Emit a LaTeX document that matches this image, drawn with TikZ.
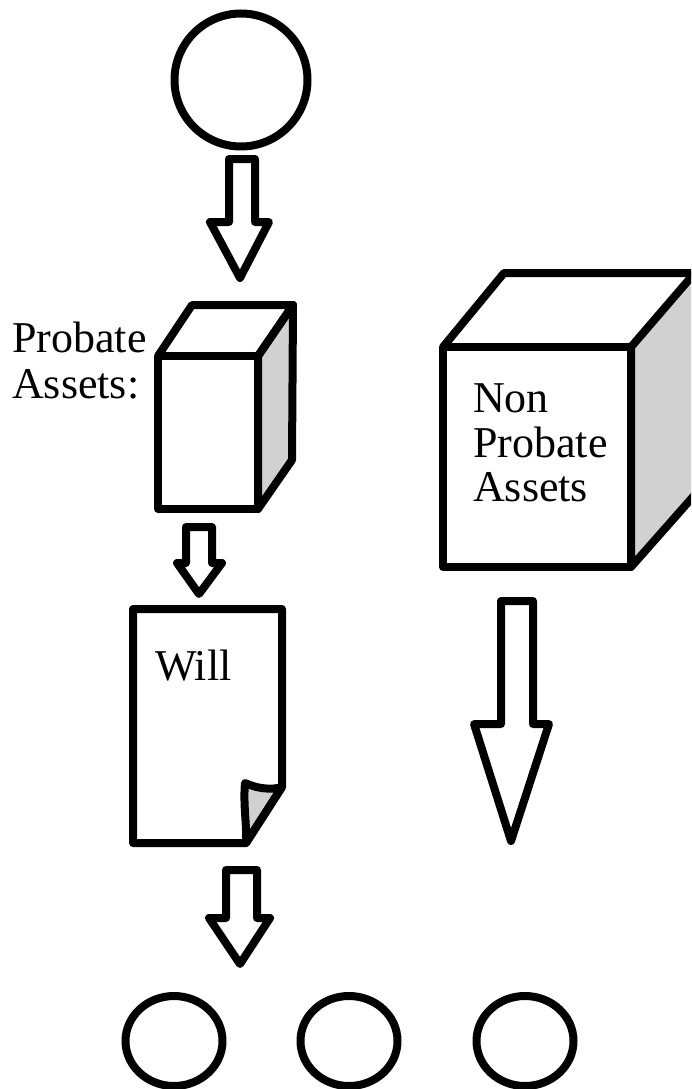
\documentclass[tikz,border=0pt]{standalone}
\usepackage{fontspec}
\setmainfont{Liberation Serif}
\usetikzlibrary{shapes.geometric}

\begin{document}
\begin{tikzpicture}[x=1pt,y=-1pt,line join=round,
        heavy/.style={draw,line width=8pt},
        blob/.style={ellipse,heavy,inner sep=0pt,minimum width=97pt,minimum height=90pt},
        side/.style={heavy,fill=black!18},
        label/.style={inner sep=0pt,anchor=base west,font=\fontsize{44}{46}\selectfont}]
        \useasboundingbox (0,0) rectangle (691,1089);
        \clip (0,0) rectangle (691,1089);

        \node[blob,minimum width=133pt,minimum height=133pt] (start) at (241,80) {};
        \node[blob] (heir1) at (174,1041) {};
        \node[blob] (heir2) at (349,1041) {};
        \node[blob] (heir3) at (525,1041) {};

        % small box
        \draw[side] (258,356) -- (293,305) -- (292,460) -- (258,509) -- cycle;
        \draw[heavy] (158,356) -- (192,305) -- (293,305) -- (258,356);
        \draw[heavy] (158,356) rectangle (258,509);
        % large box
        \draw[side] (631,347) -- (699,268) -- (699,490) -- (631,567) -- cycle;
        \draw[heavy] (443,347) -- (504,273) -- (699,273);
        \draw[heavy] (443,347) rectangle (631,567);
        % will
        \draw[side] (282,787) -- (246,843) .. controls (247,825) and (243,805) .. (245,783)
            .. controls (258,789) and (272,790) .. (282,787);
        \draw[heavy] (246,843) -- (133,843) -- (133,609) -- (282,609) -- (282,787) -- cycle;

        % arrows
        \draw[heavy] (229,159) -- (255,159) -- (255,222) -- (269,222) -- (240,278) -- (210,222) -- (229,222) -- cycle;
        \draw[heavy] (186,527) -- (212,527) -- (212,563) -- (222,563) -- (199,594) -- (177,563) -- (186,563) -- cycle;
        \draw[heavy] (226,870) -- (257,870) -- (257,918) -- (270,918) -- (240,964) -- (209,918) -- (226,918) -- cycle;
        \draw[heavy] (501,601) -- (533,601) -- (533,724) -- (549,724) -- (511,841) -- (474,724) -- (501,724) -- cycle;

        \node[label] (probate) at (12,352) {Probate};
        \node[label] (assets) at (12,398) {Assets:};
        \node[label] (non) at (473,412) {Non};
        \node[label] (nonprobate) at (473,457) {Probate};
        \node[label] (nonassets) at (473,501) {Assets};
        \node[label] (will) at (155,680) {Will};
    \end{tikzpicture}
\end{document}
